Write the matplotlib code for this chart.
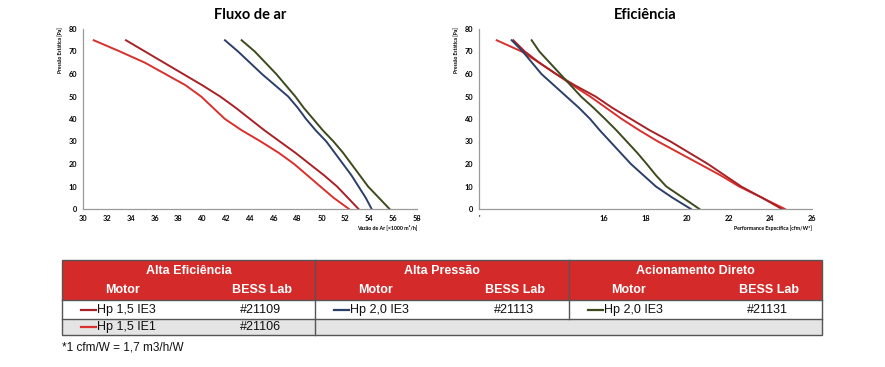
import matplotlib.pyplot as plt
from matplotlib.patches import Rectangle

# --- data ---
press = [75, 70, 65, 60, 55, 50, 45, 40, 35, 30, 25, 20, 15, 10, 5, 0]

# Fluxo de ar: vazao [x1000 m3/h] at each pressure level
flow_ie1 = [30.9, 33.1, 35.2, 36.9, 38.6, 39.9, 40.9, 41.9, 43.3, 44.9, 46.4, 47.7, 48.8, 49.9, 51.0, 52.3]
flow_ie3 = [33.6, 35.2, 36.8, 38.4, 40.0, 41.5, 42.8, 44.0, 45.2, 46.5, 47.8, 49.0, 50.2, 51.3, 52.2, 53.1]
flow_hp2 = [41.9, 43.0, 44.0, 45.0, 46.1, 47.2, 48.0, 48.7, 49.5, 50.4, 51.1, 51.8, 52.5, 53.1, 53.7, 54.2]
flow_dir = [43.3, 44.4, 45.3, 46.2, 47.0, 47.8, 48.5, 49.3, 50.1, 51.0, 51.8, 52.5, 53.2, 53.9, 54.8, 55.7]

# Eficiencia: performance especifica [cfm/W] at each pressure level
eff_ie1 = [10.85, 12.05, 12.9, 13.7, 14.5, 15.34, 16.1, 16.86, 17.7, 18.6, 19.6, 20.6, 21.6, 22.5, 23.6, 24.7]
eff_ie3 = [11.65, 12.2, 12.9, 13.7, 14.6, 15.6, 16.4, 17.3, 18.2, 19.2, 20.1, 21.0, 21.8, 22.6, 23.6, 24.55]
eff_hp2 = [11.57, 12.1, 12.55, 13.0, 13.6, 14.2, 14.8, 15.34, 15.8, 16.3, 16.8, 17.3, 17.9, 18.5, 19.3, 20.18]
eff_dir = [12.53, 12.9, 13.4, 13.9, 14.4, 14.9, 15.5, 16.06, 16.6, 17.1, 17.6, 18.06, 18.5, 19.0, 19.8, 20.59]

flow_ticks = list(range(30, 59, 2))
eff_ticks = [10, 16, 18, 20, 22, 24, 26]
eff_labels = ["'", "16", "18", "20", "22", "24", "26"]
y_ticks = list(range(0, 81, 10))

groups = ["Alta Eficiência", "Alta Pressão", "Acionamento Direto"]
rows = [
    [("Hp 1,5 IE3", "#21109"), ("Hp 2,0 IE3", "#21113"), ("Hp 2,0 IE3", "#21131")],
    [("Hp 1,5 IE1", "#21106"), None, None],
]

c_ie1 = "#d8302c"
c_ie3 = "#a82126"
c_hp2 = "#2b3f6b"
c_dir = "#3c4a1c"
row_colors = [[c_ie3, c_hp2, c_dir], [c_ie1, None, None]]

W, H = 885, 367
fig = plt.figure(figsize=(W / 100, H / 100), dpi=100)
chart_font = "Lato"


def px_box(x0, x1, y_top, y_bot):
    return [x0 / W, 1 - y_bot / H, (x1 - x0) / W, (y_bot - y_top) / H]


def style_axis(ax, xlim, xticks, xlabels, xlabel, title):
    ax.set_xlim(*xlim)
    ax.set_ylim(0, 80)
    ax.set_xticks(xticks)
    ax.set_xticklabels(xlabels)
    ax.set_yticks(y_ticks)
    for s in ["top", "right"]:
        ax.spines[s].set_visible(False)
    for s in ["left", "bottom"]:
        ax.spines[s].set_color("#9a9a9a")
        ax.spines[s].set_linewidth(0.9)
    ax.tick_params(length=0, pad=4, labelsize=5.3)
    for lab in ax.get_xticklabels() + ax.get_yticklabels():
        lab.set_fontweight("bold")
        lab.set_family(chart_font)
    ax.set_ylabel("Pressão Estática [Pa]", fontsize=3.6, fontweight="bold", family=chart_font, labelpad=4)
    ax.yaxis.set_label_coords(-0.06, 0.88)
    ax.set_xlabel(xlabel, fontsize=3.8, fontweight="bold", family=chart_font, ha="right")
    ax.xaxis.set_label_coords(1.0, -0.09)
    ax.set_title(title, fontsize=10.5, fontweight="bold", family=chart_font, pad=7)


lw = 1.4
ax1 = fig.add_axes(px_box(83, 417, 29, 209))
ax1.plot(flow_ie1, press, color=c_ie1, lw=lw)
ax1.plot(flow_ie3, press, color=c_ie3, lw=lw)
ax1.plot(flow_hp2, press, color=c_hp2, lw=lw)
ax1.plot(flow_dir, press, color=c_dir, lw=lw)
style_axis(ax1, (30, 58), flow_ticks, [str(t) for t in flow_ticks],
           "Vazão de Ar [×1000 m³/h]", "Fluxo de ar")

ax2 = fig.add_axes(px_box(479, 812, 29, 209))
ax2.plot(eff_ie1, press, color=c_ie1, lw=lw)
ax2.plot(eff_ie3, press, color=c_ie3, lw=lw)
ax2.plot(eff_hp2, press, color=c_hp2, lw=lw)
ax2.plot(eff_dir, press, color=c_dir, lw=lw)
style_axis(ax2, (10, 26), eff_ticks, eff_labels,
           "Performance Específica [cfm/W*]", "Eficiência")

# --- table drawn in pixel coordinates ---
tb = fig.add_axes([0, 0, 1, 1])
tb.set_xlim(0, W)
tb.set_ylim(H, 0)
tb.axis("off")

x0, x1 = 62, 822
gw = (x1 - x0) / 3
y_head, y_r1, y_r2, y_end = 260, 300, 319, 335
red = "#d42a2a"
edge = "#555555"
tfont = "Liberation Sans"

tb.add_patch(Rectangle((x0, y_head), x1 - x0, y_r1 - y_head, fc=red, ec="none"))
tb.add_patch(Rectangle((x0, y_r1), x1 - x0, y_r2 - y_r1, fc="white", ec="none"))
tb.add_patch(Rectangle((x0, y_r2), x1 - x0, y_end - y_r2, fc="#e4e4e4", ec="none"))
tb.add_patch(Rectangle((x0, y_head), x1 - x0, y_end - y_head, fc="none", ec=edge, lw=1.0))
tb.plot([x0, x1], [y_r1, y_r1], color=edge, lw=1.0)
tb.plot([x0, x1], [y_r2, y_r2], color=edge, lw=1.0)

for g, name in enumerate(groups):
    gx = x0 + g * gw
    if g > 0:
        tb.plot([gx, gx], [y_head, y_r2 if g == 2 else y_end], color=edge, lw=1.0)
    tb.text(gx + gw / 2, 271, name, color="white", fontsize=9, fontweight="bold",
            family=tfont, ha="center", va="center")
    tb.text(gx + 60, 290, "Motor", color="white", fontsize=9, fontweight="bold",
            family=tfont, ha="center", va="center")
    tb.text(gx + 200, 290, "BESS Lab", color="white", fontsize=9, fontweight="bold",
            family=tfont, ha="center", va="center")

for r, (row, yc) in enumerate(zip(rows, [310, 327])):
    for g, cell in enumerate(row):
        if cell is None:
            continue
        gx = x0 + g * gw
        tb.plot([gx + 19, gx + 34], [yc, yc], color=row_colors[r][g], lw=1.6)
        tb.text(gx + 35, yc, cell[0], fontsize=9, family=tfont, ha="left", va="center", color="#111111")
        tb.text(gx + 199, yc, cell[1], fontsize=9, family=tfont, ha="center", va="center", color="#111111")

tb.text(x0, 348, "*1 cfm/W = 1,7 m3/h/W", fontsize=8.5, family=tfont, ha="left", va="center", color="#111111")

fig.savefig("out.png", dpi=100)
